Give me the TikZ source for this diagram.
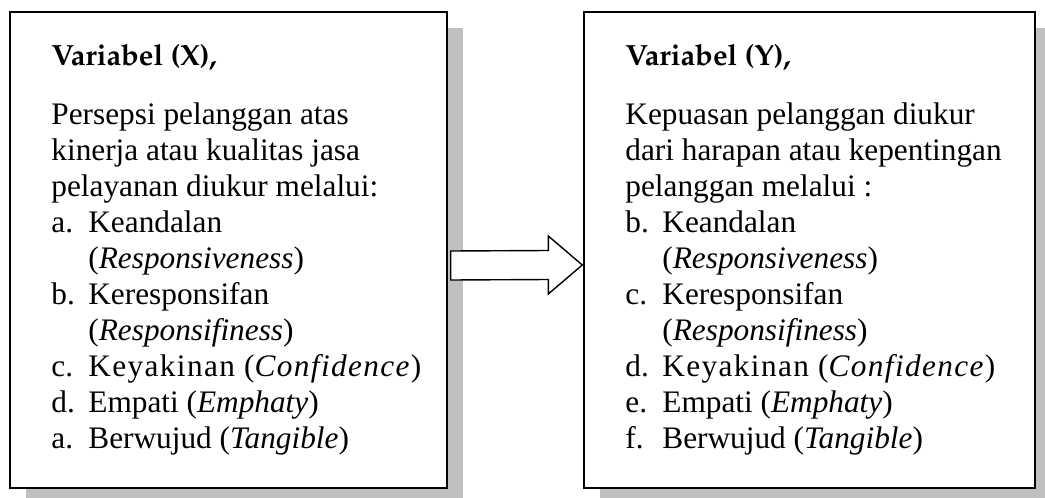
\documentclass[tikz,border=0pt]{standalone}
\usepackage[T1]{fontenc}
\usepackage{fontspec}
\setmainfont{Liberation Serif}
\usetikzlibrary{shadows,calc}
\definecolor{shadowgray}{RGB}{192,192,192}
\newcommand\headfont{\fontencoding{T1}\fontfamily{ppl}\fontseries{b}\fontsize{14.6}{16}\selectfont}
\newcommand\bodyfont{\fontsize{15.65}{18}\selectfont}
\newcommand\lbl[1]{\makebox[18.5pt][l]{#1}}
\newcommand\wide[1]{{\addfontfeature{LetterSpace=4.4}#1}}
\tikzset{
  varbox/.style={draw, line width=0.7pt, fill=white,
    drop shadow={shadow xshift=8pt, shadow yshift=-8pt,
      fill=shadowgray, opacity=1}},
  txt/.style={anchor=base west, inner sep=0pt, font=\bodyfont},
  head/.style={anchor=base west, inner sep=0pt, font=\headfont},
  blockarrow/.style={draw, line width=0.7pt, fill=white}
}
\begin{document}
\begin{tikzpicture}[x=0.5pt, y=-0.5pt]
  \useasboundingbox (0,0) rectangle (1045,498);
  % the two boxes
  \node[varbox, minimum width=218.5pt, minimum height=238pt]
    (boxX) at (228.5,250) {};
  \node[varbox, minimum width=225.5pt, minimum height=238pt]
    (boxY) at (809.5,250) {};

  % left box text
  \node[head] (hx) at (51,65) {Variabel (X),};
  \node[txt] (x1) at (51,124) {Persepsi pelanggan atas};
  \node[txt] (x2) at (51,160) {kinerja atau kualitas jasa};
  \node[txt] (x3) at (51,196) {pelayanan diukur melalui:};
  \node[txt] (x4) at (51,232) {\lbl{a.}Keandalan};
  \node[txt] (x5) at (88,268) {(\textit{Responsiveness})};
  \node[txt] (x6) at (51,304) {\lbl{b.}Keresponsifan};
  \node[txt] (x7) at (88,340) {(\textit{Responsifiness})};
  \node[txt] (x8) at (51,376)
    {\lbl{c.}\wide{Keyakinan (\textit{Confidence})}};
  \node[txt] (x9) at (51,412) {\lbl{d.}Empati (\textit{Emphaty})};
  \node[txt] (x10) at (51,448) {\lbl{a.}Berwujud (\textit{Tangible})};

  % right box text
  \node[head] (hy) at (625,65) {Variabel (Y),};
  \node[txt] (y1) at (625,124) {Kepuasan pelanggan diukur};
  \node[txt] (y2) at (625,160) {dari harapan atau kepentingan};
  \node[txt] (y3) at (625,196) {pelanggan melalui :};
  \node[txt] (y4) at (625,232) {\lbl{b.}Keandalan};
  \node[txt] (y5) at (662,268) {(\textit{Responsiveness})};
  \node[txt] (y6) at (625,304) {\lbl{c.}Keresponsifan};
  \node[txt] (y7) at (662,340) {(\textit{Responsifiness})};
  \node[txt] (y8) at (625,376)
    {\lbl{d.}\wide{Keyakinan (\textit{Confidence})}};
  \node[txt] (y9) at (625,412) {\lbl{e.}Empati (\textit{Emphaty})};
  \node[txt] (y10) at (625,448) {\lbl{f.}Berwujud (\textit{Tangible})};

  % block arrow from X to Y
  \coordinate (tail) at ($(boxX.east)+(3,15.5)$);
  \coordinate (tip) at ($(boxY.west)+(-1,15)$);
  \draw[blockarrow] ($(tail)+(0,-14.5)$) -- ($(tip)+(-34,-14.5)$)
    -- ($(tip)+(-34,-29)$) -- (tip) -- ($(tip)+(-34,29)$)
    -- ($(tip)+(-34,14.5)$) -- ($(tail)+(0,14.5)$) -- cycle;
\end{tikzpicture}
\end{document}
